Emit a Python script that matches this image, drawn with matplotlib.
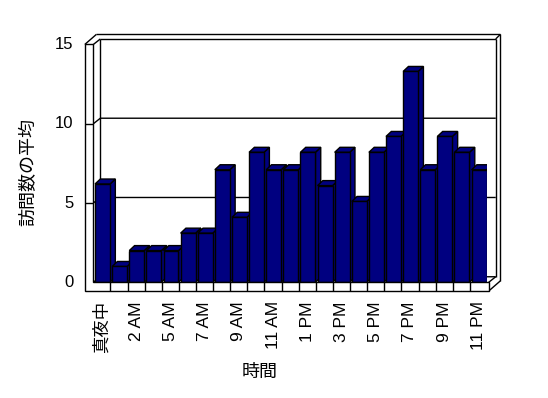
import matplotlib
matplotlib.use("Agg")
import matplotlib.pyplot as plt
from matplotlib.patches import Polygon
import numpy as np

plt.rcParams['font.family'] = ['Liberation Sans', 'Noto Sans CJK JP', 'DejaVu Sans']

# データ（時間帯ごとの訪問数の平均）
hours = ['真夜中', '1 AM', '2 AM', '3 AM', '5 AM', '6 AM', '7 AM', '8 AM',
         '9 AM', '10 AM', '11 AM', '正午', '1 PM', '2 PM', '3 PM', '4 PM',
         '5 PM', '6 PM', '7 PM', '8 PM', '9 PM', '10 PM', '11 PM']
visits = [6.2, 1.0, 2.0, 2.0, 2.0, 3.1, 3.1, 7.1, 4.1, 8.2, 7.1, 7.1,
          8.2, 6.1, 8.2, 5.1, 8.2, 9.2, 13.3, 7.1, 9.2, 8.2, 7.1]
y_ticks = [0, 5, 10, 15]
x_title = '時間'
y_title = '訪問数の平均'

navy = '#000080'
lw = 1.0
n = len(visits)

fig = plt.figure(figsize=(5.48, 3.98), dpi=100)
ax = fig.add_axes([0.1703, 0.2907, 0.7184, 0.5975])
ax.set_xlim(0, n)
ax.set_ylim(0, 15)
ax.set_axis_off()

# 奥行き（データ単位）
dxi, dyi = 0.41, 0.35      # 壁の内側
dxo, dyo = 0.68, 0.64      # 壁の外側
dxb, dyb = 0.31, 0.315     # 棒
wall_w = 0.5               # 左の壁の厚み
floor_h = 0.55             # 床の厚み
x_end = n + 0.1


def line(xs, ys, z=1):
    ax.plot(xs, ys, color='black', lw=lw, clip_on=False, zorder=z,
            solid_capstyle='butt')


# 奥の壁と目盛り線
for t in y_ticks[:-1]:
    line([0, dxi, x_end + dxi], [t, t + dyi, t + dyi])
    if t > 0:
        line([-wall_w, 0], [t, t])
line([dxi, dxi], [dyi, 15 + dyi])
line([dxi, x_end + dxi], [15 + dyi, 15 + dyi])
line([-wall_w + dxo, x_end + dxo], [15 + dyo, 15 + dyo])
line([-wall_w, -wall_w + dxo], [15, 15 + dyo])
line([0, dxi], [15, 15 + dyi])
line([x_end + dxi, x_end + dxo], [15 + dyi, 15 + dyo])
line([x_end + dxi, x_end + dxi], [dyi, 15 + dyi])
line([x_end + dxo, x_end + dxo], [-floor_h + dyo, 15 + dyo])
line([x_end, x_end + dxi], [0, dyi])
line([x_end, x_end + dxo], [-floor_h, -floor_h + dyo])

# 棒（前面）
xs = np.arange(n) + 0.1
w = 0.876
bars = ax.bar(xs, visits, width=w, align='edge', color=navy,
              edgecolor='black', linewidth=lw)
for i, (b, v) in enumerate(zip(bars, visits)):
    z = 3 + i * 0.01
    b.set_zorder(z + 0.002)
    x0 = xs[i]
    side = Polygon([(x0 + w, 0), (x0 + w + dxb, dyb), (x0 + w + dxb, v + dyb),
                    (x0 + w, v)], closed=True, facecolor=navy,
                   edgecolor='black', lw=lw, zorder=z)
    top = Polygon([(x0, v), (x0 + w, v), (x0 + w + dxb, v + dyb),
                   (x0 + dxb, v + dyb)], closed=True, facecolor=navy,
                  edgecolor='black', lw=lw, zorder=z + 0.001)
    ax.add_patch(side)
    ax.add_patch(top)

# 手前の床と左の壁
front = Polygon([(-wall_w, -floor_h), (x_end, -floor_h), (x_end, 0), (0, 0),
                 (0, 15), (-wall_w, 15)], closed=True, facecolor='white',
                edgecolor='black', lw=lw, zorder=4, clip_on=False)
ax.add_patch(front)
for k in range(1, n):
    line([k, k], [-floor_h, 0], z=5)
for t in y_ticks[1:-1]:
    line([-wall_w, 0], [t, t], z=5)

# 目盛りラベル
for t in y_ticks:
    ax.text(-1.17, t, str(t), ha='right', va='center', fontsize=12)
for k in range(0, n, 2):
    ax.text(k + 0.5, -1.2, hours[k], rotation=90, ha='center', va='top',
            fontsize=12.5)

fig.text(0.0529, 0.5666, y_title, rotation=90, ha='center', va='center',
         fontsize=13)
fig.text(0.4745, 0.064, x_title, ha='center', va='center', fontsize=13)

plt.savefig('out.png', dpi=100)
